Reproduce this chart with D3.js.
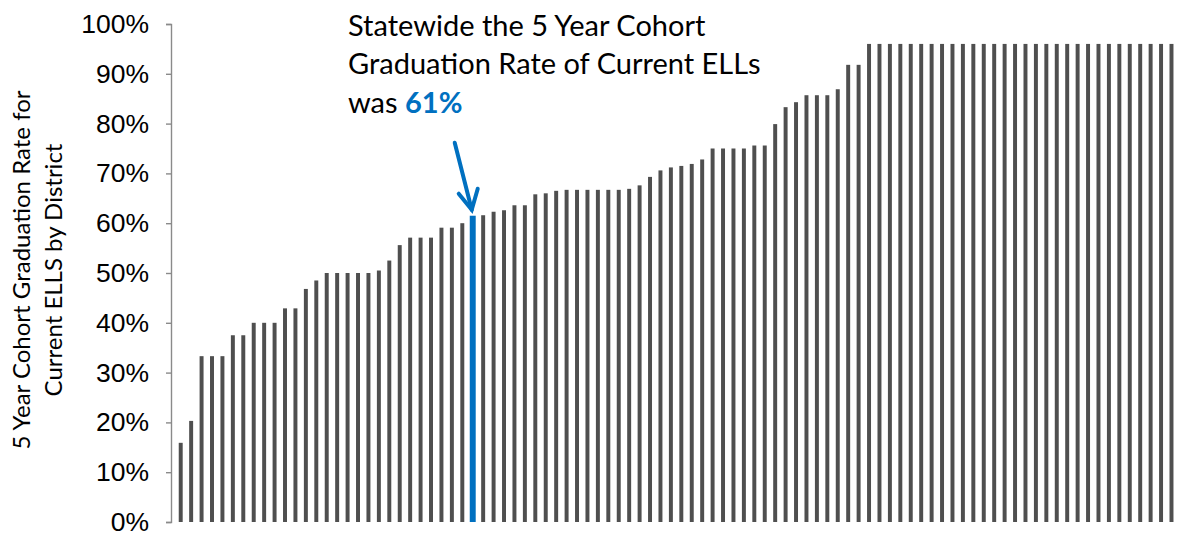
<!DOCTYPE html>
<html>
<head>
<meta charset="utf-8">
<script src="https://cdn.jsdelivr.net/npm/d3@7"></script>
<style>
  body { margin: 0; background: #fff; }
  svg { display: block; }
</style>
</head>
<body>
<svg id="chart" width="1180" height="533"></svg>
<script>
// District rates (%), sorted low to high; one entry per district
const rates = [
  15.9, 20.3, 33.3, 33.3, 33.3, 37.5, 37.5, 40.0, 40.0, 40.0,
  42.9, 42.9, 46.8, 48.5, 50.0, 50.0, 50.0, 50.0, 50.0, 50.5,
  52.5, 55.6, 57.1, 57.1, 57.1, 59.1, 59.1, 60.0, 61.5, 61.6,
  62.3, 62.6, 63.6, 63.6, 65.8, 66.0, 66.5, 66.7, 66.7, 66.7,
  66.7, 66.7, 66.7, 66.9, 67.6, 69.3, 70.6, 71.2, 71.5, 71.9,
  72.8, 75.0, 75.0, 75.0, 75.0, 75.6, 75.6, 79.9, 83.3, 84.3,
  85.7, 85.7, 85.7, 86.9, 91.8, 91.8, 96.0, 96.0, 96.0, 96.0,
  96.0, 96.0, 96.0, 96.0, 96.0, 96.0, 96.0, 96.0, 96.0, 96.0,
  96.0, 96.0, 96.0, 96.0, 96.0, 96.0, 96.0, 96.0, 96.0, 96.0,
  96.0, 96.0, 96.0, 96.0, 96.0, 96.0
];
const districts = rates.map((d, i) => i);
const statewideIndex = 28;      // the highlighted statewide bar
const statewideLabel = "61%";
const yTicks = [0, 10, 20, 30, 40, 50, 60, 70, 80, 90, 100];
const yTitle = ["5 Year Cohort Graduation Rate for", "Current ELLS by District"];
const note = ["Statewide the 5 Year Cohort", "Graduation Rate of Current ELLs", "was "];

const svg = d3.select("#chart");

// Scales
let x = d3.scaleBand()
  .domain(districts)
  .range([175.5, 1176.7])
  .paddingInner(0.62)
  .paddingOuter(0.31);

let y = d3.scaleLinear()
  .domain([0, 100])
  .range([522, 24]);

// Bars
svg.append("g")
  .selectAll("rect")
  .data(rates)
  .enter()
  .append("rect")
    .attr("x", (d, i) => i === statewideIndex ? x(i) - 1 : x(i))
    .attr("width", (d, i) => i === statewideIndex ? x.bandwidth() + 2 : x.bandwidth())
    .attr("y", d => y(d))
    .attr("height", d => y(0) - y(d))
    .attr("fill", (d, i) => i === statewideIndex ? "#0070C0" : "#4f4f4f");

// Y axis
let yAxis = svg.append("g")
  .attr("transform", "translate(171,0)")
  .call(d3.axisLeft(y).tickValues(yTicks).tickFormat(d => d + "%").tickSize(5).tickPadding(17));
yAxis.select(".domain").attr("stroke", "#8a8a8a").attr("stroke-width", 1.4);
yAxis.selectAll(".tick line").attr("stroke", "#8a8a8a").attr("stroke-width", 1.4);
yAxis.selectAll(".tick text")
  .attr("fill", "#000")
  .style("font-family", "'Liberation Sans', Arial, sans-serif")
  .style("font-size", "26.5px");

// Y axis title
svg.append("text")
  .attr("transform", "translate(0,270) rotate(-90)")
  .attr("text-anchor", "middle")
  .style("font-family", "Lato, 'Open Sans', sans-serif")
  .style("font-size", "24px")
  .attr("fill", "#000")
  .selectAll("tspan")
  .data(yTitle)
  .enter()
  .append("tspan")
    .attr("x", 0)
    .attr("y", (d, i) => 30 + i * 32)
    .text(d => d);

// Annotation
let noteText = svg.append("text")
  .style("font-family", "Lato, 'Open Sans', sans-serif")
  .style("font-size", "29px")
  .attr("fill", "#000");
note.forEach((line, i) => {
  noteText.append("tspan")
    .attr("x", 348)
    .attr("y", 36 + i * 38.3)
    .text(line);
});
noteText.append("tspan")
  .attr("fill", "#0070C0")
  .style("font-weight", "bold")
  .text(statewideLabel);

// Arrow pointing at the statewide bar
let tipX = x(statewideIndex) + x.bandwidth() / 2 - 1;
let tipY = y(rates[statewideIndex]) - 6;
let arrow = svg.append("g")
  .attr("stroke", "#0070C0")
  .attr("stroke-width", 4)
  .attr("fill", "none")
  .attr("stroke-linecap", "round");
arrow.append("line")
  .attr("x1", tipX - 17).attr("y1", tipY - 67)
  .attr("x2", tipX).attr("y2", tipY);
arrow.append("polyline")
  .attr("points", [[tipX - 13, tipY - 16], [tipX, tipY], [tipX + 6, tipY - 21]].map(p => p.join(",")).join(" "));
</script>
</body>
</html>
